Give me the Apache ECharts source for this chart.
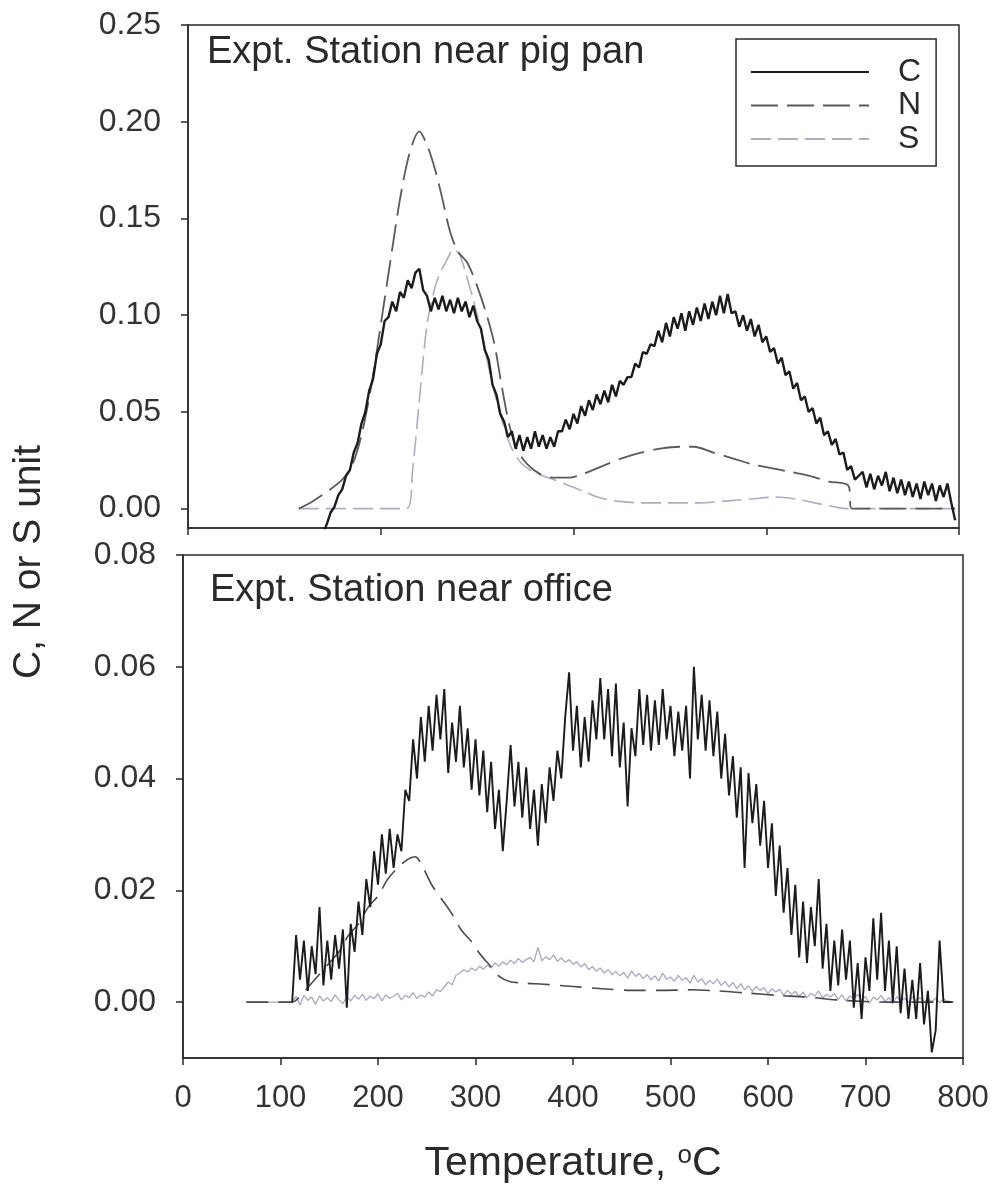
<!DOCTYPE html>
<html>
<head>
<meta charset="utf-8">
<script src="https://cdn.jsdelivr.net/npm/echarts@6/dist/echarts.min.js"></script>
<style>
html, body { margin: 0; padding: 0; background: #fff; }
#chart { width: 995px; height: 1188px; }
</style>
</head>
<body>
<div id="chart"></div>
<script>
// ---- data ----
// top panel: Expt. Station near pig pan
var topCStart = 140, topCStep = 4;
var topC = [
  -0.013,-0.008,-0.002,0.001,0.007,0.010,0.017,0.020,0.029,0.034,
  0.044,0.050,0.061,0.067,0.080,0.085,0.097,0.099,0.107,0.102,
  0.112,0.109,0.118,0.114,0.122,0.124,0.113,0.110,0.102,0.109,
  0.103,0.110,0.102,0.108,0.101,0.109,0.102,0.107,0.099,0.105,
  0.097,0.093,0.082,0.077,0.064,0.059,0.049,0.045,0.037,0.040,
  0.031,0.038,0.030,0.037,0.031,0.040,0.032,0.038,0.031,0.037,
  0.032,0.040,0.040,0.046,0.041,0.049,0.044,0.053,0.048,0.056,
  0.051,0.059,0.054,0.061,0.055,0.064,0.058,0.066,0.064,0.068,
  0.068,0.075,0.073,0.081,0.080,0.085,0.084,0.092,0.086,0.096,
  0.089,0.099,0.093,0.101,0.092,0.102,0.095,0.104,0.097,0.106,
  0.098,0.107,0.100,0.110,0.101,0.111,0.101,0.102,0.094,0.100,
  0.092,0.098,0.089,0.095,0.086,0.089,0.081,0.083,0.075,0.078,
  0.069,0.071,0.062,0.065,0.056,0.058,0.050,0.052,0.044,0.047,
  0.038,0.040,0.033,0.036,0.028,0.029,0.020,0.022,0.015,0.017,
  0.019,0.011,0.018,0.010,0.017,0.012,0.019,0.009,0.016,0.008,
  0.015,0.007,0.014,0.006,0.013,0.005,0.014,0.007,0.013,0.004,
  0.012,0.006,0.013,0.003,-0.006
];
var topNTemp = [115,130,145,160,170,180,190,200,210,220,230,240,248,256,264,272,280,290,300,310,318,326,334,342,352,365,380,395,410,430,450,470,490,510,525,545,565,585,605,625,645,665,685,689,796];
var topN     = [0,0.004,0.009,0.015,0.022,0.038,0.063,0.095,0.128,0.160,0.184,0.195,0.188,0.176,0.160,0.143,0.133,0.127,0.115,0.100,0.085,0.062,0.042,0.030,0.023,0.018,0.016,0.016,0.018,0.022,0.026,0.029,0.031,0.032,0.032,0.029,0.026,0.023,0.021,0.019,0.017,0.014,0.012,0,0];
var topSTemp = [115,227,233,238,243,248,254,260,268,276,282,288,296,304,312,320,328,336,345,355,368,380,395,410,425,443,470,500,530,560,585,610,630,650,670,685,796];
var topS     = [0,0,0.020,0.045,0.072,0.095,0.110,0.120,0.128,0.134,0.131,0.122,0.108,0.092,0.073,0.056,0.042,0.031,0.024,0.020,0.017,0.015,0.012,0.009,0.006,0.004,0.003,0.003,0.003,0.004,0.005,0.006,0.005,0.003,0.001,0,0];

// bottom panel: Expt. Station near office
var botCStart = 112, botCStep = 4;
var botC = [
  0.000,0.012,0.004,0.011,0.002,0.010,0.005,0.017,0.003,0.011,
  0.004,0.012,0.006,0.013,-0.001,0.014,0.009,0.018,0.012,0.022,
  0.017,0.027,0.021,0.030,0.023,0.031,0.024,0.030,0.027,0.038,
  0.036,0.047,0.040,0.051,0.043,0.053,0.045,0.055,0.047,0.056,
  0.041,0.050,0.043,0.053,0.042,0.049,0.038,0.047,0.037,0.045,
  0.034,0.043,0.031,0.038,0.027,0.036,0.046,0.035,0.043,0.033,
  0.042,0.031,0.038,0.028,0.039,0.032,0.042,0.036,0.045,0.040,
  0.051,0.059,0.045,0.053,0.042,0.051,0.043,0.054,0.047,0.058,
  0.047,0.056,0.044,0.057,0.042,0.050,0.035,0.049,0.044,0.056,
  0.046,0.055,0.045,0.054,0.046,0.056,0.047,0.053,0.044,0.052,
  0.045,0.053,0.040,0.060,0.047,0.055,0.045,0.054,0.044,0.052,
  0.040,0.048,0.037,0.044,0.033,0.042,0.024,0.041,0.032,0.039,
  0.028,0.036,0.024,0.032,0.019,0.028,0.016,0.024,0.012,0.021,
  0.008,0.018,0.007,0.017,0.010,0.022,0.006,0.014,0.002,0.011,
  0.003,0.013,0.004,0.011,-0.001,0.007,-0.003,0.008,0.002,0.015,
  0.004,0.016,0.002,0.011,0.000,0.010,-0.002,0.006,-0.003,0.004,
  -0.003,0.007,-0.004,0.002,-0.009,-0.005,0.011,0.000,0.000,0.000
];
var botNTemp = [65,112,120,130,140,150,160,170,180,190,200,210,220,230,238,245,255,265,275,285,295,305,315,325,335,350,370,400,430,460,490,520,550,580,610,640,670,700,730,790];
var botN     = [0,0,0.001,0.003,0.005,0.007,0.009,0.012,0.014,0.017,0.019,0.022,0.024,0.0255,0.026,0.0245,0.021,0.0185,0.016,0.013,0.011,0.0085,0.0065,0.0045,0.0037,0.0034,0.0032,0.0028,0.0024,0.0021,0.0021,0.0022,0.0020,0.0016,0.0012,0.0009,0.0004,0.0001,0,0];
var botSBaseStart = 65;
var botSStart = 112, botSStep = 4;
var botS = [
  0.000,0.001,-0.0005,0.0012,0.0003,0.0009,-0.0004,0.0011,0.0002,0.0008,
  0.0001,0.0013,0.0004,-0.0003,0.0010,0.0002,0.0012,0.0005,0.0014,0.0003,
  0.0011,0.0006,0.0015,0.0002,0.0013,0.0007,0.0010,0.0016,0.0004,0.0012,
  0.0008,0.0017,0.0006,0.0013,0.0009,0.0018,0.0011,0.0022,0.0019,0.0027,
  0.0036,0.0031,0.0048,0.0052,0.0058,0.0054,0.0061,0.0056,0.0064,0.0059,
  0.0066,0.0061,0.0070,0.0064,0.0072,0.0067,0.0075,0.0069,0.0078,0.0071,
  0.0076,0.0080,0.0072,0.0098,0.0074,0.0081,0.0076,0.0084,0.0073,0.0079,
  0.0071,0.0076,0.0068,0.0072,0.0063,0.0069,0.0058,0.0064,0.0055,0.0061,
  0.0052,0.0058,0.0049,0.0055,0.0047,0.0053,0.0043,0.0056,0.0046,0.0051,
  0.0042,0.0049,0.0040,0.0047,0.0038,0.0052,0.0041,0.0045,0.0037,0.0048,
  0.0039,0.0044,0.0034,0.0048,0.0036,0.0042,0.0031,0.0039,0.0033,0.0041,
  0.0030,0.0037,0.0027,0.0035,0.0024,0.0033,0.0022,0.0029,0.0019,0.0028,
  0.0021,0.0026,0.0015,0.0024,0.0018,0.0023,0.0012,0.0021,0.0014,0.0019,
  0.0010,0.0018,0.0008,0.0016,0.0011,0.0020,0.0007,0.0014,0.0009,0.0015,
  0.0005,0.0013,0.0002,0.0011,0.0006,0.0014,0.0003,0.0010,-0.0002,0.0009,
  0.0004,0.0012,0.0001,0.0008,-0.0003,0.0010,0.0002,0.0007,-0.0001,0.0009,
  0.0003,0.0008,-0.0002,0.0006,0.0001,0.0007,-0.0001,0.0005,0.0002,0.0000
];

var topYTicks = [0, 0.05, 0.10, 0.15, 0.20, 0.25];
var botYTicks = [0, 0.02, 0.04, 0.06, 0.08];
var legendNames = ['C', 'N', 'S'];

function pairs(temps, vals) {
    var out = [];
    for (var i = 0; i < vals.length; i++) out.push([temps[i], vals[i]]);
    return out;
}
function evenPairs(start, step, vals) {
    var out = [];
    for (var i = 0; i < vals.length; i++) out.push([start + i * step, vals[i]]);
    return out;
}

var font = '"Liberation Sans", Arial, sans-serif';
var ink = '#2a2a2a';

var chart = echarts.init(document.getElementById('chart'));

var yAxisBase = function(min, max, ticks, gridIndex) {
    return {
        type: 'value', gridIndex: gridIndex, min: min, max: max,
        axisLine: { show: true, onZero: false, lineStyle: { color: ink, width: 1.5 } },
        axisTick: { show: true, inside: false, length: 7, customValues: ticks, lineStyle: { color: ink, width: 1.5 } },
        axisLabel: {
            customValues: ticks, margin: 27, color: '#333', fontSize: 32, fontFamily: font,
            formatter: function(v) { return v.toFixed(2); }
        },
        splitLine: { show: false }
    };
};

chart.setOption({
    animation: false,
    backgroundColor: '#fff',
    textStyle: { fontFamily: font },
    title: [
        { text: 'Expt. Station near pig pan', left: 207, top: 34, padding: 0,
          textStyle: { fontSize: 38, fontWeight: 'normal', color: ink, fontFamily: font } },
        { text: 'Expt. Station near office', left: 210, top: 572, padding: 0,
          textStyle: { fontSize: 38, fontWeight: 'normal', color: ink, fontFamily: font } }
    ],
    legend: {
        data: legendNames,
        orient: 'vertical',
        left: 736, top: 39,
        padding: [17, 15, 11, 14],
        itemWidth: 118, itemHeight: 14, itemGap: 1.5,
        itemStyle: { opacity: 0 },
        borderColor: ink, borderWidth: 1.5,
        textStyle: { fontSize: 32, lineHeight: 32, color: ink, fontFamily: font, padding: [0, 0, 0, 24] }
    },
    graphic: [{
        type: 'text', x: 29, y: 562, rotation: Math.PI / 2,
        style: { text: 'C, N or S unit', font: '39px ' + font, fill: ink, textAlign: 'center', textVerticalAlign: 'middle' }
    }],
    grid: [
        { left: 188, top: 25, width: 771, height: 503, show: true, borderColor: ink, borderWidth: 1.5 },
        { left: 183, top: 555, width: 780, height: 503, show: true, borderColor: ink, borderWidth: 1.5 }
    ],
    xAxis: [
        { type: 'value', gridIndex: 0, min: 0, max: 800, interval: 200,
          axisLine: { show: true, onZero: false, lineStyle: { color: ink, width: 1.5 } },
          axisTick: { show: true, length: 7, lineStyle: { color: ink, width: 1.5 } },
          axisLabel: { show: false }, splitLine: { show: false } },
        { type: 'value', gridIndex: 1, min: 0, max: 800, interval: 100,
          axisLine: { show: true, onZero: false, lineStyle: { color: ink, width: 1.5 } },
          axisTick: { show: true, length: 7, lineStyle: { color: ink, width: 1.5 } },
          axisLabel: { margin: 25, color: '#333', fontSize: 31, fontFamily: font },
          splitLine: { show: false },
          name: 'Temperature, {sup|o}C', nameLocation: 'middle', nameGap: 85,
          nameTextStyle: { fontSize: 41, color: ink, fontFamily: font,
              rich: { sup: { fontSize: 26, color: ink, fontFamily: font, verticalAlign: 'top', padding: [0, 0, 6, 0] } } } }
    ],
    yAxis: [
        yAxisBase(-0.01, 0.25, topYTicks, 0),
        yAxisBase(-0.01, 0.08, botYTicks, 1)
    ],
    series: [
        { name: 'S', type: 'line', xAxisIndex: 0, yAxisIndex: 0, symbol: 'none', z: 2,
          data: pairs(topSTemp, topS), smooth: 0.3,
          itemStyle: { color: '#a9afc9' }, lineStyle: { color: '#a9afc9', width: 1.6, type: [20, 7] } },
        { name: 'N', type: 'line', xAxisIndex: 0, yAxisIndex: 0, symbol: 'none', z: 3,
          data: pairs(topNTemp, topN), smooth: 0.3,
          itemStyle: { color: '#5a5a5a' }, lineStyle: { color: '#5a5a5a', width: 1.8, type: [27, 9] } },
        { name: 'C', type: 'line', xAxisIndex: 0, yAxisIndex: 0, symbol: 'none', z: 4,
          data: evenPairs(topCStart, topCStep, topC),
          itemStyle: { color: '#1c1c1c' }, lineStyle: { color: '#1c1c1c', width: 2.4 } },
        { name: 'S', type: 'line', xAxisIndex: 1, yAxisIndex: 1, symbol: 'none', z: 2,
          data: [[botSBaseStart, 0]].concat(evenPairs(botSStart, botSStep, botS)),
          itemStyle: { color: '#a4aac6' }, lineStyle: { color: '#a4aac6', width: 1.3 } },
        { name: 'N', type: 'line', xAxisIndex: 1, yAxisIndex: 1, symbol: 'none', z: 3,
          data: pairs(botNTemp, botN), smooth: 0.3,
          itemStyle: { color: '#4a4a4a' }, lineStyle: { color: '#4a4a4a', width: 1.6, type: [22, 10] } },
        { name: 'C', type: 'line', xAxisIndex: 1, yAxisIndex: 1, symbol: 'none', z: 4,
          data: evenPairs(botCStart, botCStep, botC),
          itemStyle: { color: '#1c1c1c' }, lineStyle: { color: '#1c1c1c', width: 1.9 } }
    ]
});
</script>
</body>
</html>
